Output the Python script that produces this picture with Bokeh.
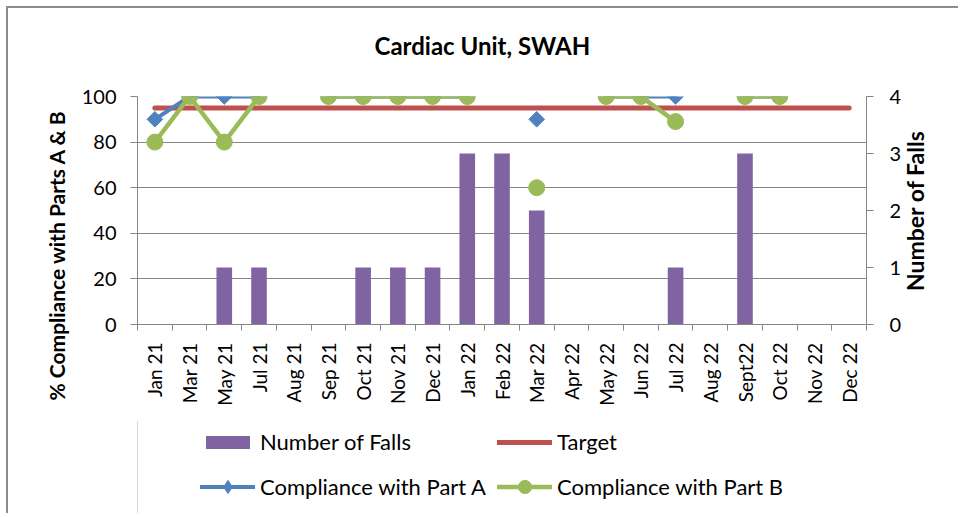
import math
from bokeh.plotting import figure
from bokeh.layouts import column
from bokeh.models import (Range1d, LinearAxis, FixedTicker, Legend, LegendItem,
                          ColumnDataSource, Title)
from bokeh.embed import file_html
from bokeh.resources import INLINE

nan = float("nan")

months = ["Jan 21", "Mar 21", "May 21", "Jul 21", "Aug 21", "Sep 21", "Oct 21",
          "Nov 21", "Dec 21", "Jan 22", "Feb 22", "Mar 22", "Apr 22", "May 22",
          "Jun 22", "Jul 22", "Aug 22", "Sept22", "Oct 22", "Nov 22", "Dec 22"]
number_of_falls = [0, 0, 1, 1, 0, 0, 1, 1, 1, 3, 3, 2, 0, 0, 0, 1, 0, 3, 0, 0, 0]
part_a = [90, 100, 100, 100, nan, 100, 100, 100, 100, 100, nan, 90, nan, 100,
          100, 100, nan, 100, 100, nan, nan]
part_b = [80, 100, 80, 100, nan, 100, 100, 100, 100, 100, nan, 60, nan, 100,
          100, 89, nan, 100, 100, nan, nan]
target = [95] * len(months)
pct_ticks = [0, 20, 40, 60, 80, 100]
falls_ticks = [0, 1, 2, 3, 4]

FONT = "Lato"
GREY = "#868686"
C_FALLS, C_TARGET, C_A, C_B = "#8064A2", "#C0504D", "#4F81BD", "#9BBB59"

xs = list(range(1, len(months) + 1))
src = ColumnDataSource(dict(x=xs, month=months, falls=number_of_falls,
                            a=part_a, b=part_b, target=target))

W = 950
H1, H2 = 412, 93
FL, FT = 129, 88          # frame left/top in canvas px
FR, FB = 858, 316         # frame right/bottom in canvas px

p = figure(width=W, height=H1, output_backend="svg", toolbar_location=None,
           x_range=Range1d(0.5, len(months) + 0.5), y_range=Range1d(0, 100),
           min_border_left=FL, min_border_top=FT,
           min_border_right=W - FR, min_border_bottom=H1 - FB,
           background_fill_color="white", border_fill_color="white")
p.outline_line_color = None
p.extra_y_ranges = {"falls": Range1d(0, 4)}

# grid
p.xgrid.visible = False
p.ygrid.ticker = FixedTicker(ticks=pct_ticks)
p.ygrid.grid_line_color = GREY
p.ygrid.grid_line_width = 1

# x axis
xa = p.xaxis[0]
xa.ticker = FixedTicker(ticks=xs, minor_ticks=[i + 0.5 for i in range(0, len(months) + 1)])
xa.major_label_overrides = {x: m for x, m in zip(xs, months)}
xa.major_label_orientation = math.pi / 2
xa.major_tick_out = 0
xa.major_tick_in = 0
xa.minor_tick_out = 6
xa.minor_tick_in = 0
xa.minor_tick_line_color = GREY
xa.axis_line_color = GREY
xa.major_label_standoff = 12
xa.major_label_text_font = FONT
xa.major_label_text_font_size = "19px"
xa.major_label_text_color = "black"

# left axis
ya = p.yaxis[0]
ya.ticker = FixedTicker(ticks=pct_ticks)
ya.major_tick_out = 7
ya.major_tick_in = 0
ya.minor_tick_out = 0
ya.minor_tick_in = 0
ya.axis_line_color = GREY
ya.major_tick_line_color = GREY
ya.major_label_standoff = 14
ya.major_label_text_font = FONT
ya.major_label_text_font_size = "20px"
ya.major_label_text_color = "black"

# right axis
ra = LinearAxis(y_range_name="falls", ticker=FixedTicker(ticks=falls_ticks))
ra.major_tick_out = 7
ra.major_tick_in = 0
ra.minor_tick_out = 0
ra.minor_tick_in = 0
ra.axis_line_color = GREY
ra.major_tick_line_color = GREY
ra.major_label_standoff = 16
ra.major_label_text_font = FONT
ra.major_label_text_font_size = "20px"
ra.major_label_text_color = "black"
ra.axis_label = "\u00a0" * 6 + "Number of Falls"
ra.axis_label_standoff = 11
ra.axis_label_text_font = FONT
ra.axis_label_text_font_style = "bold"
ra.axis_label_text_font_size = "23px"
ra.axis_label_text_color = "black"
props = ra.properties()
if "axis_label_orientation" in props:
    ra.axis_label_orientation = math.pi / 2
if "axis_label_align" in props:
    ra.axis_label_align = "start"
p.add_layout(ra, "right")

# data
p.vbar(x="x", top="falls", width=0.45, source=src, y_range_name="falls",
       fill_color=C_FALLS, line_color=None)
p.line(x="x", y="target", source=src, line_color=C_TARGET, line_width=5, line_cap="round")
p.line(x="x", y="a", source=src, line_color=C_A, line_width=4,
       line_cap="round", line_join="round")
p.scatter(x="x", y="a", source=src, marker="square", angle=math.pi / 4, size=11,
          fill_color=C_A, line_color=C_A)
p.line(x="x", y="b", source=src, line_color=C_B, line_width=4.5,
       line_cap="round", line_join="round")
p.scatter(x="x", y="b", source=src, marker="circle", size=16,
          fill_color=C_B, line_color=C_B)

# title (spacer keeps it lifted above the plot area)
p.add_layout(Title(text=" ", text_font_size="12px", standoff=16), "above")
p.add_layout(Title(text="Cardiac Unit, SWAH", align="left", offset=237, standoff=10,
                   text_font=FONT, text_font_style="bold", text_font_size="24px",
                   text_color="black"), "above")

# left axis title
p.add_layout(Title(text="% Compliance with Parts A & B", align="left", offset=-76,
                   standoff=20, text_font=FONT, text_font_style="bold",
                   text_font_size="21px", text_color="black"), "left")

# legend strip (its own frame so nothing is clipped)
lg = figure(width=W, height=H2, output_backend="svg", toolbar_location=None,
            x_range=Range1d(0, 1), y_range=Range1d(0, 1),
            min_border=0, x_axis_type=None, y_axis_type=None,
            background_fill_color=None, border_fill_color=None)
lg.outline_line_color = None
lg.outline_line_alpha = 0
lg.grid.visible = False
r_bar = lg.vbar(x=[-5], top=[1], width=0.45, fill_color=C_FALLS, line_color=None)
r_tgt = lg.line(x=[-5, -4], y=[0.5, 0.5], line_color=C_TARGET, line_width=5, line_cap="round")
r_al = lg.line(x=[-5, -4], y=[0.5, 0.5], line_color=C_A, line_width=4, line_cap="round")
r_am = lg.scatter(x=[-5], y=[0.5], marker="diamond", fill_color=C_A, line_color=C_A)
r_bl = lg.line(x=[-5, -4], y=[0.5, 0.5], line_color=C_B, line_width=4.5, line_cap="round")
r_bm = lg.scatter(x=[-5], y=[0.5], marker="circle", fill_color=C_B, line_color=C_B)

def make_legend(items, loc, gh):
    leg = Legend(items=items, location=loc, orientation="horizontal",
                 glyph_width=55, glyph_height=gh, label_height=20,
                 label_width=232, spacing=5, label_standoff=5, padding=0,
                 margin=0, border_line_color=None, background_fill_alpha=0,
                 label_text_font=FONT, label_text_font_size="22px",
                 label_text_color="black")
    lg.add_layout(leg, "center")

make_legend([LegendItem(label="Number of Falls", renderers=[r_bar]),
             LegendItem(label="Target", renderers=[r_tgt])], (63, 58), 16)
make_legend([LegendItem(label="Compliance with Part A", renderers=[r_al, r_am]),
             LegendItem(label="Compliance with Part B", renderers=[r_bl, r_bm])], (63, 10), 33)

layout = column(p, lg, spacing=0)
layout.styles = {"margin-left": "6px", "margin-top": "6px",
                 "border-left": "2px solid #8c8c8c", "border-top": "2px solid #8c8c8c"}

open("out.html", "w").write(file_html(layout, INLINE))
